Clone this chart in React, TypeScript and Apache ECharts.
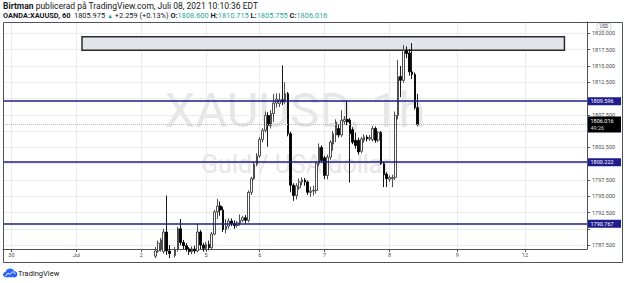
import React, { useEffect, useRef } from "react";
import * as echarts from "echarts";

// ---- data ----
const SLOT_COUNT = 208;
const FIRST_BAR = 54;
const dayLabels = ["30", "Jul", "2", "5", "6", "7", "8", "9", "12"];
const dayStarts = [3, 26, 49, 72, 91, 114, 137, 161, 185];

const opens = [
  1785.8, 1786.6, 1786.9, 1786.5, 1789.5, 1786.6, 1786.2, 1785.9, 1786.8, 1790.0,
  1787.9, 1787.4, 1786.9, 1786.5, 1786.9, 1786.6, 1789.5, 1787.5, 1787.0, 1787.6,
  1787.1, 1789.2, 1792.6, 1793.5, 1792.9, 1789.9, 1790.4, 1791.2, 1790.8, 1790.5,
  1790.9, 1791.3, 1791.7, 1791.3, 1795.6, 1797.7, 1799.9, 1801.2, 1803.7, 1805.1,
  1807.4, 1805.9, 1807.7, 1809.3, 1809.2, 1809.8, 1809.5, 1810.75, 1804.6, 1796.7,
  1795.1, 1796.3, 1797.2, 1797.5, 1797.2, 1795.6, 1795.8, 1795.9, 1800.0, 1802.5,
  1800.9, 1798.2, 1801.0, 1803.0, 1804.4, 1805.4, 1804.4, 1806.5, 1806.8, 1806.7,
  1805.2, 1803.6, 1803.6, 1801.9, 1803.6, 1804.1, 1803.8, 1803.7, 1805.4, 1803.6,
  1804.8, 1800.0, 1798.4, 1797.6, 1797.7, 1797.9, 1807.4, 1813.4, 1812.8, 1817.4,
  1817.0, 1814.1, 1813.7, 1808.6,
];
const closes = [
  1786.6, 1787.8, 1788.3, 1789.5, 1786.6, 1786.2, 1785.9, 1786.8, 1790.0, 1787.9,
  1787.4, 1786.9, 1786.5, 1786.9, 1786.6, 1789.5, 1787.5, 1787.0, 1787.6, 1787.1,
  1789.2, 1792.6, 1793.5, 1792.9, 1789.9, 1790.4, 1791.2, 1790.8, 1790.5, 1790.9,
  1791.3, 1791.7, 1791.3, 1795.6, 1797.7, 1799.9, 1801.2, 1803.7, 1805.1, 1807.4,
  1805.9, 1807.7, 1809.3, 1809.9, 1809.8, 1809.5, 1810.75, 1804.6, 1796.7, 1795.1,
  1796.6, 1797.2, 1797.5, 1797.2, 1795.6, 1795.8, 1795.9, 1800.0, 1802.5, 1800.5,
  1798.2, 1801.0, 1803.3, 1804.6, 1806.4, 1804.4, 1806.65, 1806.8, 1806.4, 1804.6,
  1803.3, 1802.8, 1801.8, 1803.8, 1804.1, 1803.8, 1804.0, 1805.4, 1803.6, 1804.8,
  1800.0, 1798.3, 1797.7, 1797.9, 1797.9, 1807.4, 1813.3, 1812.8, 1817.4, 1816.9,
  1814.1, 1813.7, 1808.6, 1806.016,
];
const lows = [
  1785.5, 1786.3, 1786.5, 1786.2, 1786.0, 1785.5, 1785.4, 1785.6, 1786.5, 1787.5,
  1786.9, 1786.5, 1786.0, 1786.1, 1786.2, 1786.4, 1786.9, 1786.5, 1786.7, 1786.7,
  1786.9, 1789.0, 1791.5, 1792.0, 1789.5, 1789.3, 1790.0, 1790.4, 1790.0, 1790.2,
  1790.5, 1791.0, 1790.8, 1791.0, 1795.2, 1797.5, 1799.6, 1800.9, 1803.3, 1804.8,
  1802.6, 1805.4, 1806.4, 1808.6, 1808.7, 1809.0, 1809.2, 1804.2, 1795.6, 1794.3,
  1794.5, 1796.0, 1796.7, 1796.6, 1795.2, 1794.9, 1795.1, 1795.4, 1799.6, 1800.2,
  1797.6, 1797.6, 1800.6, 1802.0, 1803.3, 1804.0, 1804.1, 1806.0, 1805.9, 1797.1,
  1803.0, 1802.3, 1801.4, 1801.6, 1803.2, 1803.4, 1803.5, 1803.4, 1803.2, 1803.3,
  1799.8, 1796.4, 1796.4, 1797.2, 1796.4, 1797.5, 1806.8, 1810.2, 1812.4, 1816.2,
  1813.5, 1813.0, 1808.3, 1805.755,
];
const highs = [
  1787.2, 1788.2, 1788.6, 1790.0, 1795.1, 1787.5, 1786.8, 1787.2, 1790.3, 1791.5,
  1788.3, 1787.8, 1787.2, 1787.3, 1787.4, 1790.8, 1789.8, 1787.8, 1788.0, 1788.2,
  1789.5, 1792.9, 1794.6, 1794.2, 1793.4, 1791.5, 1791.6, 1791.6, 1791.3, 1791.2,
  1792.2, 1792.0, 1792.1, 1795.9, 1798.0, 1800.3, 1801.6, 1804.1, 1805.4, 1808.0,
  1807.9, 1808.2, 1810.7, 1810.8, 1810.8, 1815.1, 1812.5, 1811.0, 1804.9, 1797.0,
  1797.0, 1797.7, 1797.9, 1797.8, 1797.4, 1796.5, 1796.6, 1800.4, 1803.1, 1802.8,
  1801.2, 1801.4, 1803.6, 1805.0, 1806.8, 1806.0, 1808.2, 1807.3, 1809.7, 1807.0,
  1805.6, 1804.8, 1804.0, 1804.1, 1804.5, 1804.4, 1804.4, 1805.8, 1805.7, 1805.0,
  1805.0, 1800.3, 1798.7, 1798.2, 1798.3, 1808.0, 1815.9, 1815.0, 1818.2, 1818.0,
  1817.6, 1818.5, 1814.0, 1810.715,
];

const levelPrices = [1809.596, 1800.222, 1790.767];
const lastPrice = 1806.016;
const countdown = "49:26";
const zoneTop = 1819.5;
const zoneBottom = 1817.4;
const zoneStartSlot = 28;
const zoneEndSlot = 199;

const yTicks = [1787.5, 1790, 1792.5, 1795, 1797.5, 1800, 1802.5, 1805, 1807.5, 1810, 1812.5, 1815, 1817.5, 1820];
const yLabelTicks = [1787.5, 1792.5, 1795, 1797.5, 1802.5, 1807.5, 1812.5, 1815, 1817.5, 1820];

const headerLine1 = ["Birtman", " publicerad på TradingView.com, Juli 08, 2021 10:10:36 EDT"];
const symbolName = "OANDA:XAUUSD, 60";
const lastQuote = "1805.975";
const change = "+2.259 (+0.13%)";
const ohlcLabels = ["O:", "H:", "L:", "C:"];
const ohlcValues = ["1808.600", "1810.715", "1805.755", "1806.016"];

const FONT = "Roboto, 'Liberation Sans', Arial, sans-serif";
const NAVY = "#1f1d8c";
const TEAL = "#26a69a";
const DARK = "#131722";
const AXIS = "#50535e";
const GRIDC = "#ebebeb";

const logoPath =
  "M9 26C4 26 0 22.4 0 18c0-4 3-7.3 7-7.9C8.3 4.3 13.5 0 19.6 0c5.2 0 9.7 3.1 11.6 7.6C36.2 8.3 40 12.4 40 17.3 40 22.1 36 26 31 26Z";

export default function App() {
  const ref = useRef<HTMLDivElement>(null);
  useEffect(() => {
    if (!ref.current) return;
    try {
      echarts.graphic.registerShape("tvlogo", echarts.graphic.extendPath(logoPath, {}));
    } catch (e) {}
    const chart = echarts.init(ref.current, undefined, { renderer: "svg" });

    const slots = Array.from({ length: SLOT_COUNT }, (_, i) => "s" + i);
    const labelAt: Record<number, string> = {};
    dayStarts.forEach((d, k) => (labelAt[d] = dayLabels[k]));
    const isDay = (i: number) => labelAt[i] !== undefined;

    const candles = opens.map((o, k) => [FIRST_BAR + k, o, closes[k], lows[k], highs[k]]);

    const levelLines = levelPrices.map((p) => ({
      yAxis: p,
      lineStyle: { color: NAVY, width: 1.5, type: "solid" },
      label: {
        show: true,
        position: "end",
        distance: 1,
        formatter: () => p.toFixed(3),
        backgroundColor: NAVY,
        color: "#ffffff",
        fontSize: 5.5,
        fontFamily: FONT,
        lineHeight: 6,
        padding: [1, 2.5],
        width: 28,
      },
    }));

    const lastLine = {
      yAxis: lastPrice,
      lineStyle: { color: "#b8bbc4", width: 1, type: "dotted" },
      label: {
        show: true,
        position: "end",
        distance: 1,
        formatter: () => `{p|${lastPrice.toFixed(3)}}\n{t|${countdown}}`,
        backgroundColor: "#000000",
        padding: [1.5, 2.5],
        width: 28,
        rich: {
          p: { color: "#ffffff", fontSize: 5.5, fontFamily: FONT, lineHeight: 6.5 },
          t: { color: "#d0d0d0", fontSize: 5.5, fontFamily: FONT, lineHeight: 6.5 },
        },
      },
    };

    const headerRich2 =
      `{b|${symbolName}}{n|  ${lastQuote} }{g|▲}{n| ${change} }` +
      ohlcLabels.map((l, k) => `{b|${k ? " " : ""}${l}}{v|${ohlcValues[k]}}`).join("");

    chart.setOption({
      animation: false,
      backgroundColor: "#ffffff",
      grid: { left: 3, right: 38, top: 22, bottom: 34 },
      xAxis: {
        type: "category",
        data: slots,
        boundaryGap: false,
        axisLine: { show: true, lineStyle: { color: AXIS, width: 1 } },
        axisTick: { show: true, length: 3, interval: (i: number) => isDay(i), lineStyle: { color: AXIS } },
        axisLabel: {
          interval: (i: number) => isDay(i),
          formatter: (_v: string, i: number) => labelAt[i] ?? "",
          fontSize: 5.5,
          fontFamily: FONT,
          color: "#4a4a4a",
          margin: 3,
        },
        splitLine: { show: true, interval: (i: number) => isDay(i), lineStyle: { color: GRIDC, width: 1 } },
      },
      yAxis: {
        type: "value",
        position: "right",
        min: 1786.9,
        max: 1821.75,
        scale: true,
        axisLine: { show: true, lineStyle: { color: AXIS, width: 1 } },
        axisTick: { show: true, length: 3, customValues: yTicks, lineStyle: { color: AXIS } },
        axisLabel: {
          customValues: yLabelTicks,
          formatter: (v: number) => v.toFixed(3),
          fontSize: 5.5,
          fontFamily: FONT,
          color: "#4a4a4a",
          margin: 5,
        },
        splitLine: { show: true, lineStyle: { color: GRIDC, width: 1 } },
      },
      series: [
        {
          type: "line",
          data: [],
          clip: false,
          silent: true,
          z: 1,
          markArea: {
            silent: true,
            itemStyle: { color: "#e3e3ea", borderColor: "#2b2b2b", borderWidth: 1.5 },
            data: [[{ coord: [zoneStartSlot, zoneTop] }, { coord: [zoneEndSlot, zoneBottom] }]],
          },
        },
        {
          type: "candlestick",
          data: candles,
          encode: { x: 0, y: [1, 2, 3, 4] },
          barWidth: 2.2,
          clip: true,
          z: 3,
          itemStyle: {
            color: "#ffffff",
            color0: "#000000",
            borderColor: "#3a3a3a",
            borderColor0: "#000000",
            borderWidth: 0.9,
          },
        },
        {
          type: "line",
          data: [],
          clip: false,
          silent: true,
          z: 4,
          markLine: {
            silent: true,
            symbol: ["none", "none"],
            animation: false,
            data: [lastLine, ...levelLines],
          },
        },
      ],
      graphic: [
        {
          type: "text",
          z: -10,
          x: 295,
          y: 110,
          style: {
            text: "XAUUSD, 1h",
            fontSize: 49,
            fontFamily: FONT,
            fill: "#e6e6e6",
            align: "center",
            verticalAlign: "middle",
          },
        },
        {
          type: "text",
          z: -10,
          x: 296,
          y: 164,
          style: {
            text: "Guld / USA dollar",
            fontSize: 25,
            fontFamily: FONT,
            fill: "#e6e6e6",
            align: "center",
            verticalAlign: "middle",
          },
        },
        {
          type: "rect",
          z: 50,
          shape: { x: 3.5, y: 22.5, width: 619, height: 240 },
          style: { fill: "none", stroke: AXIS, lineWidth: 1 },
        },
        {
          type: "text",
          x: 3,
          y: 6,
          style: {
            text: `{b|${headerLine1[0]}}{n|${headerLine1[1]}}`,
            verticalAlign: "middle",
            rich: {
              b: { fontSize: 8.5, fontFamily: FONT, fontWeight: "bold", fill: DARK },
              n: { fontSize: 8.5, fontFamily: FONT, fill: DARK },
            },
          },
        },
        {
          type: "text",
          x: 3,
          y: 15.5,
          style: {
            text: headerRich2,
            verticalAlign: "middle",
            rich: {
              b: { fontSize: 7.4, fontFamily: FONT, fontWeight: "bold", fill: DARK },
              n: { fontSize: 7.4, fontFamily: FONT, fill: DARK },
              g: { fontSize: 6.2, fontFamily: FONT, fill: TEAL },
              v: { fontSize: 7.4, fontFamily: FONT, fill: TEAL },
            },
          },
        },
        {
          type: "rect",
          z: 60,
          shape: { x: 597, y: 23.5, width: 14, height: 6.5, r: 2 },
          style: { fill: "#ffffff", stroke: "#c9cbd1", lineWidth: 0.8 },
        },
        {
          type: "text",
          z: 61,
          x: 604,
          y: 26.8,
          style: { text: "USD", fontSize: 4.5, fontFamily: FONT, fill: "#333", align: "center", verticalAlign: "middle" },
        },
        {
          type: "tvlogo",
          x: 3,
          y: 268.5,
          scaleX: 0.36,
          scaleY: 0.34,
          style: { fill: "#2962ff" },
        },
        {
          type: "polyline",
          shape: { points: [[5.5, 276], [8, 273], [10, 274.5], [13, 271.5], [15.5, 274]] },
          style: { stroke: "#ffffff", lineWidth: 1, fill: "none" },
        },
        {
          type: "text",
          x: 18,
          y: 273,
          style: { text: "TradingView", fontSize: 7.5, fontFamily: FONT, fill: DARK, verticalAlign: "middle" },
        },
      ],
    });
    return () => chart.dispose();
  }, []);
  return <div ref={ref} style={{ position: "absolute", left: 0, top: 0, width: 625, height: 283 }} />;
}
